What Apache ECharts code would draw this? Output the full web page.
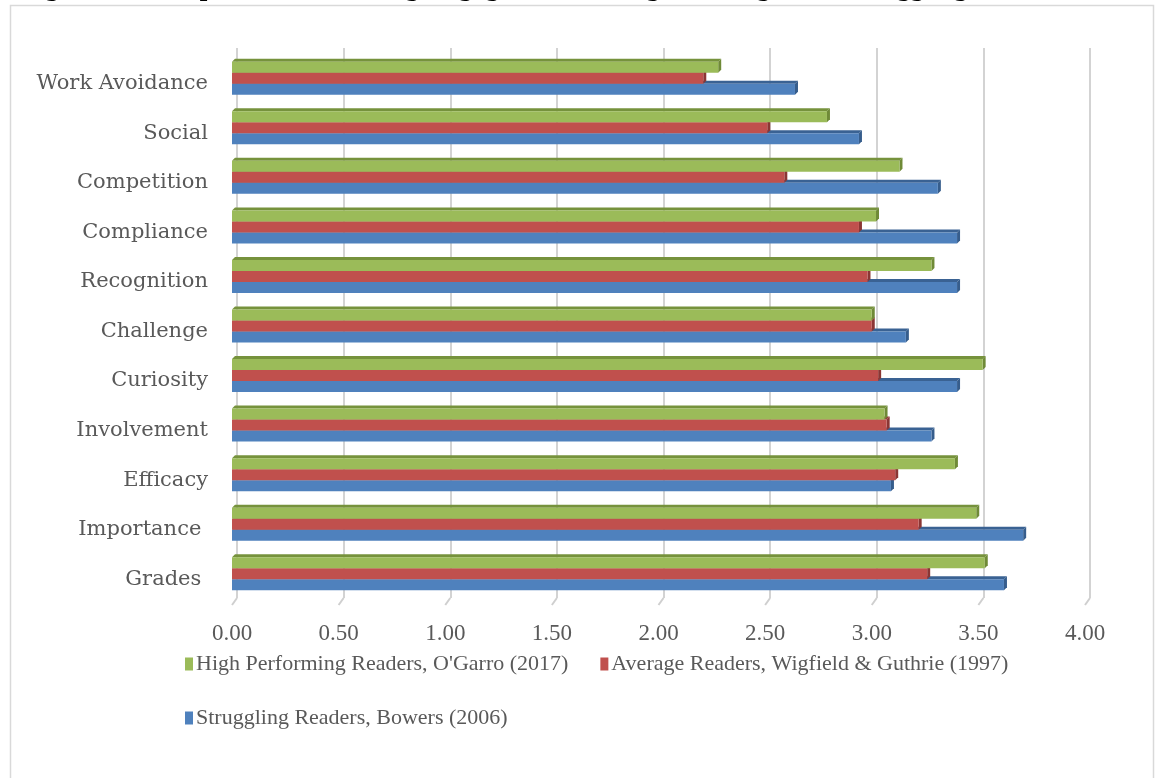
<!DOCTYPE html>
<html>
<head>
<meta charset="utf-8">
<title>Reading Motivation Comparison</title>
<script src="https://cdn.jsdelivr.net/npm/echarts@6/dist/echarts.min.js"></script>
<style>
  html, body { margin: 0; padding: 0; background: #ffffff; }
  #chart { width: 1155px; height: 778px; }
</style>
</head>
<body>
<div id="chart"></div>
<script>
// Motivation dimensions, listed top to bottom
const categories = ['Work Avoidance', 'Social', 'Competition', 'Compliance', 'Recognition',
  'Challenge', 'Curiosity', 'Involvement', 'Efficacy', 'Importance ', 'Grades '];

const seriesNames = [
  "High Performing Readers, O'Garro (2017)",
  'Average Readers, Wigfield & Guthrie (1997)',
  'Struggling Readers, Bowers (2006)'
];

// Mean scores per dimension
const highPerforming = [2.28, 2.79, 3.13, 3.02, 3.28, 3.00, 3.52, 3.06, 3.39, 3.49, 3.53];
const averageReaders = [2.21, 2.51, 2.59, 2.94, 2.98, 3.00, 3.03, 3.07, 3.11, 3.22, 3.26];
const strugglingReaders = [2.64, 2.94, 3.31, 3.40, 3.40, 3.16, 3.40, 3.28, 3.09, 3.71, 3.62];

// Value axis ticks
const xTicks = [0, 0.5, 1, 1.5, 2, 2.5, 3, 3.5, 4];

const titleText = 'Figure 10. Comparison of Reading Engagement for High, Average, and Struggling Readers';

// Palette: front face, top face, end face
const palette = {
  high: ['#9BBB59', '#76923C', '#6F8A37'],
  average: ['#C0504D', '#953B39', '#8B3634'],
  struggling: ['#4F81BD', '#3A6293', '#365D8C']
};

// Draws one bar of a group as a shallow 3D block.
// slot 0 sits lowest in the group, slot 2 highest.
function blockRenderer(slot, colors) {
  return function (params, api) {
    const cat = api.value(0);
    const val = api.value(1);
    const start = api.coord([0, cat]);
    const end = api.coord([val, cat]);
    const band = api.size([0, 1])[1];
    const h = band * 0.222;
    const d = 3;
    const x0 = start[0];
    const x1 = end[0];
    const yTop = start[1] - slot * h;
    return {
      type: 'group',
      children: [
        {
          type: 'polygon',
          shape: { points: [[x0, yTop], [x0 + d, yTop - d], [x1 + d, yTop - d], [x1, yTop]] },
          style: { fill: colors[1] }
        },
        {
          type: 'polygon',
          shape: { points: [[x1, yTop], [x1 + d, yTop - d], [x1 + d, yTop + h - d], [x1, yTop + h]] },
          style: { fill: colors[2] }
        },
        {
          type: 'rect',
          shape: { x: x0, y: yTop, width: x1 - x0, height: h },
          style: { fill: colors[0] }
        }
      ]
    };
  };
}

// Slanted floor edges joining each front tick to the back wall
function floorTickRenderer(params, api) {
  const cs = params.coordSys;
  const p = api.coord([api.value(1), 0]);
  const yb = cs.y + cs.height;
  return {
    type: 'line',
    shape: { x1: p[0], y1: yb + 1, x2: p[0] + 5, y2: yb - 6 },
    style: { stroke: '#CFCFCF', lineWidth: 2 }
  };
}

function toPairs(values) {
  return values.map(function (v, i) { return [i, v]; });
}

const chart = echarts.init(document.getElementById('chart'), null, { renderer: 'canvas' });

const option = {
  backgroundColor: '#ffffff',
  animation: false,
  graphic: [
    {
      type: 'rect',
      z: -10,
      shape: { x: 10.5, y: 5.5, width: 1143, height: 800 },
      style: { fill: 'none', stroke: '#D9D9D9', lineWidth: 1.5 }
    },
    {
      type: 'text',
      x: 21,
      y: -25,
      style: {
        text: titleText,
        font: 'bold 27px "Liberation Serif"',
        fill: '#000000',
        verticalAlign: 'top'
      }
    }
  ],
  legend: {
    left: 180,
    top: 648,
    width: 910,
    itemGap: 32,
    itemWidth: 8,
    itemHeight: 13,
    icon: 'rect',
    data: seriesNames,
    selectedMode: false,
    textStyle: { fontFamily: 'Liberation Serif', fontSize: 22, color: '#595959', padding: [0, 0, 0, -2] }
  },
  grid: [
    // back wall
    { left: 237, right: 65, top: 48, bottom: 180 },
    // front plane
    { left: 232, right: 70, top: 59, bottom: 174 }
  ],
  xAxis: [
    {
      gridIndex: 0, type: 'value', min: 0, max: 4, interval: 0.5,
      axisLine: { show: false }, axisTick: { show: false }, axisLabel: { show: false },
      splitLine: { show: true, lineStyle: { color: '#D3D3D3', width: 2 } }
    },
    {
      gridIndex: 1, type: 'value', min: 0, max: 4, interval: 0.5,
      axisLine: { show: false }, axisTick: { show: false },
      splitLine: { show: false },
      axisLabel: {
        margin: 18,
        fontFamily: 'Liberation Serif', fontSize: 23, color: '#595959',
        formatter: function (v) { return v.toFixed(2); }
      }
    }
  ],
  yAxis: [
    {
      gridIndex: 0, type: 'category', data: categories, inverse: true, show: false
    },
    {
      gridIndex: 1, type: 'category', data: categories, inverse: true,
      axisLine: { show: false }, axisTick: { show: false }, splitLine: { show: false },
      axisLabel: { margin: 24, fontFamily: 'DejaVu Serif', fontSize: 21, color: '#595959' }
    }
  ],
  series: [
    {
      type: 'custom', name: 'floor', silent: true,
      xAxisIndex: 1, yAxisIndex: 1,
      encode: { x: 1, y: 0 },
      data: xTicks.map(function (t) { return [0, t]; }),
      renderItem: floorTickRenderer
    },
    {
      type: 'custom', name: seriesNames[2],
      xAxisIndex: 1, yAxisIndex: 1,
      encode: { x: 1, y: 0 },
      itemStyle: { color: palette.struggling[0] },
      data: toPairs(strugglingReaders),
      renderItem: blockRenderer(0, palette.struggling)
    },
    {
      type: 'custom', name: seriesNames[1],
      xAxisIndex: 1, yAxisIndex: 1,
      encode: { x: 1, y: 0 },
      itemStyle: { color: palette.average[0] },
      data: toPairs(averageReaders),
      renderItem: blockRenderer(1, palette.average)
    },
    {
      type: 'custom', name: seriesNames[0],
      xAxisIndex: 1, yAxisIndex: 1,
      encode: { x: 1, y: 0 },
      itemStyle: { color: palette.high[0] },
      data: toPairs(highPerforming),
      renderItem: blockRenderer(2, palette.high)
    }
  ]
};

chart.setOption(option);
</script>
</body>
</html>
